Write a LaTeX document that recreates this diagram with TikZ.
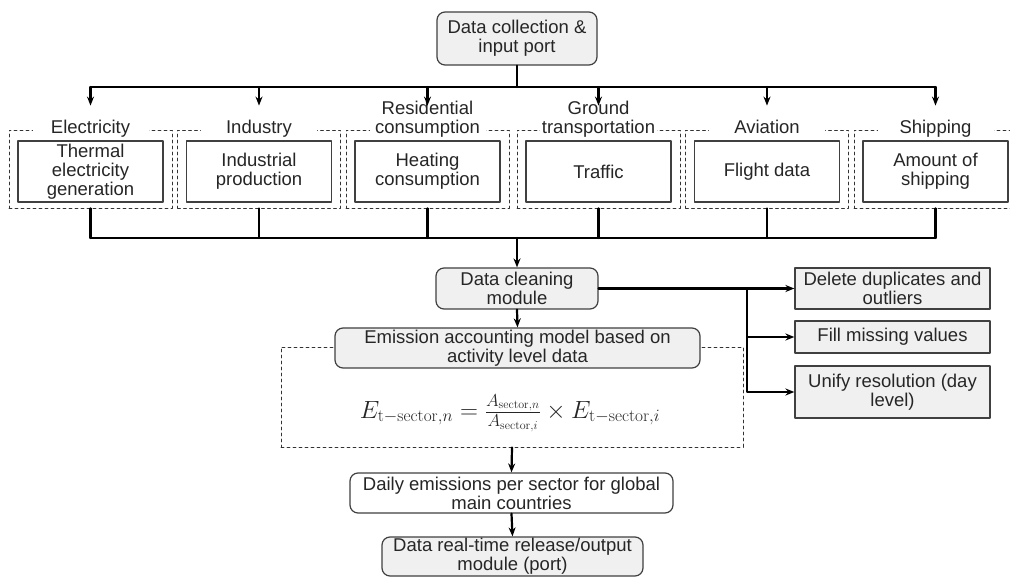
\documentclass[tikz,border=0pt]{standalone}
\usepackage[no-math]{fontspec}
\setmainfont{Liberation Sans}
\usetikzlibrary{arrows.meta,positioning}
\begin{document}
\begin{tikzpicture}[x=1pt,y=-1pt,line cap=round,line join=round,>={Stealth[length=9pt,width=7pt]},
		font=\fontsize{18.5}{19}\selectfont,text=black!85,
		graybox/.style={draw=black!75,line width=1.2pt,fill=black!6,rounded corners=8pt,align=center,inner sep=0pt},
		whitebox/.style={draw=black!75,line width=1.2pt,fill=white,align=center,inner sep=0pt},
		groupbox/.style={draw=black!80,dashed,line width=0.8pt,inner sep=0pt,minimum width=163pt,minimum height=78pt},
		grouptitle/.style={fill=white,minimum width=116pt,inner xsep=2pt,inner ysep=1pt,text depth=4.5pt,align=center,anchor=south},
		link/.style={line width=2.2pt}]
	\useasboundingbox (0,0) rectangle (1010,577);
	\clip (0,0) rectangle (1010,577);
	% input
	\node[graybox,minimum width=160pt,minimum height=53pt] (input) at (517,38.5) {Data collection \&\\input port};
	\coordinate (tin) at (517,87);
	\coordinate (bout) at (517,238);
	\draw[link] (input.south) -- (tin);
	% sectors
	\foreach \i/\cx/\title/\item in {1/90.5/Electricity/{Thermal\\electricity\\generation},
			2/259/Industry/{Industrial\\production},
			3/427.5/{Residential\\consumption}/{Heating\\consumption},
			4/598.5/{Ground\\transportation}/Traffic,
			5/767/Aviation/Flight data,
			6/935.5/Shipping/{Amount of\\shipping}}{
		\node[groupbox] (g\i) at (\cx,169) {};
		\node[whitebox,minimum width=145pt,minimum height=61pt] (s\i) at (\cx,171.5) {\item};
		\node[grouptitle] (t\i) at (\cx,139.5) {\title};
		\coordinate (a\i) at (\cx,87);
		\coordinate (b\i) at (\cx,238);
		\draw[link,->,shorten >=24pt] (a\i) -- (g\i.north);
		\draw[link] (g\i.south) -- (b\i);
	}
	\draw[link] (a1) -- (a6);
	\draw[link] (b1) -- (b6);
	% cleaning
	\node[graybox,minimum width=162pt,minimum height=41pt] (clean) at (517,288.5) {Data cleaning\\module};
	\draw[link,->] (bout) -- (clean.north);
	\node[whitebox,fill=black!6,minimum width=195pt,minimum height=41pt] (dup) at (892.5,288.5) {Delete duplicates and\\outliers};
	\node[whitebox,fill=black!6,minimum width=195pt,minimum height=32pt] (miss) at (892.5,337) {Fill missing values};
	\node[whitebox,fill=black!6,minimum width=195pt,minimum height=52pt] (unify) at (892.5,392) {Unify resolution (day\\level)};
	\coordinate (split) at (747,288.5);
	\draw[link] (clean.east) -- (split);
	\draw[link,->] (split) -- (dup.west);
	\draw[link,->] (split) |- (miss.west);
	\draw[link,->] (split) |- (unify.west);
	% accounting model
	\node[draw=black!80,dashed,line width=0.8pt,minimum width=462pt,minimum height=100pt] (model) at (512,397) {};
	\node[graybox,minimum width=365pt,minimum height=40pt] (emis) at (517.5,348) {Emission accounting model based on\\activity level data};
	\draw[link,->] (clean.south) -- (emis.north);
	\node[font=\fontsize{24}{26}\selectfont] (eq) at (510,413) {$E_{\mathrm{t}{-}\mathrm{sector},n}=\frac{A_{\mathrm{sector},n}}{A_{\mathrm{sector},i}}\times E_{\mathrm{t}{-}\mathrm{sector},i}$};
	% output
	\node[whitebox,rounded corners=8pt,minimum width=323pt,minimum height=40pt] (daily) at (511.5,493) {Daily emissions per sector for global\\main countries};
	\node[graybox,minimum width=261pt,minimum height=39pt] (port) at (512.5,556.5) {Data real-time release/output\\module (port)};
	\draw[link,->] (model.south) -- (daily.north);
	\draw[link,->] (daily.south) -- (port.north);
\end{tikzpicture}
\end{document}
